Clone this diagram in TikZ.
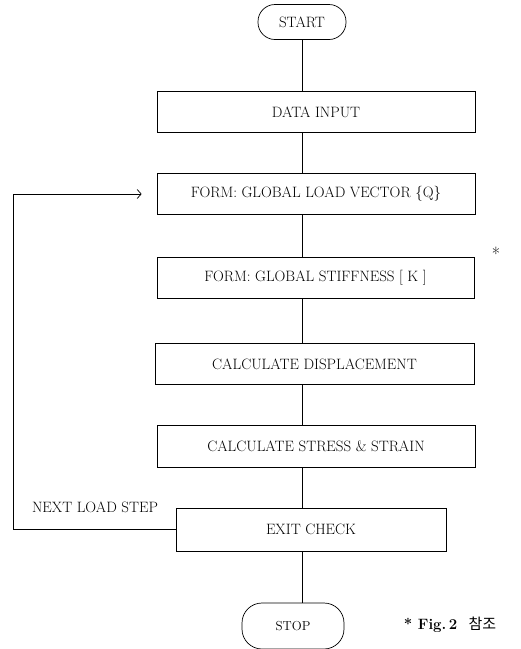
\documentclass[tikz,border=0pt]{standalone}
\usepackage{fontspec}
\newfontfamily\krfont{Noto Sans CJK KR}
\usetikzlibrary{positioning, arrows.meta}

\begin{document}
\begin{tikzpicture}[x=1pt, y=-1pt, font=\fontsize{15}{17}\selectfont,
    stepbox/.style={draw, line width=0.7pt, minimum width=318pt, minimum height=41pt, inner sep=0pt},
    termbox/.style={draw, line width=0.7pt, rounded corners=17pt, minimum width=88pt, minimum height=35pt},
    flow/.style={line width=0.7pt}]

    % Page frame
    \useasboundingbox (0,0) rectangle (521,649);

    % Terminals
    \node[termbox] (start) at (302,22) {START};
    \node[termbox, minimum width=102pt, minimum height=46pt, rounded corners=20pt,
          font=\fontsize{13}{15}\selectfont] (stop) at (293,626) {STOP};

    % Process steps
    \node[stepbox] (data)   at (316,112) {DATA\ INPUT};
    \node[stepbox] (load)   at (316,194) {FORM:\ GLOBAL LOAD VECTOR\ \{Q\}};
    \node[stepbox, minimum width=317pt] (stiff) at (315.5,278) {FORM:\ GLOBAL STIFFNESS\ [\ K\ ]};
    \node[stepbox, minimum width=319pt] (disp) at (314.5,364) {CALCULATE\ DISPLACEMENT};
    \node[stepbox, minimum height=42pt] (stress) at (316,446) {CALCULATE\ STRESS\ \&\ STRAIN};
    \node[stepbox, minimum width=270pt, minimum height=43pt] (exit) at (311,529.5) {EXIT\ CHECK};

    % Main line (all on the x of START)
    \draw[flow] (start) -- (data.north -| start);
    \draw[flow] (data.south -| start) -- (load.north -| start);
    \draw[flow] (load.south -| start) -- (stiff.north -| start);
    \draw[flow] (stiff.south -| start) -- (disp.north -| start);
    \draw[flow] (disp.south -| start) -- (stress.north -| start);
    \draw[flow] (stress.south -| start) -- (exit.north -| start);
    \draw[flow] (exit.south -| start) -- (stop.north -| start);

    % Loop back to the load vector
    \coordinate (back) at (13,194);
    \coordinate (tip) at ([xshift=-15pt]load.west);
    \draw[flow, -{Straight Barb[length=4pt, width=9pt]}] (exit.west) -| (back) -- (tip);
    \node (nextlbl) at (95,507) {NEXT\ LOAD\ STEP};

    % Remarks
    \node[font=\fontsize{18}{20}\selectfont] (star) at (496,254) {*};
    \node[font=\fontsize{15}{17}\selectfont\bfseries] (note) at (450,625) {* Fig.\,2\ \ {\krfont\mdseries 참조}};
\end{tikzpicture}
\end{document}
